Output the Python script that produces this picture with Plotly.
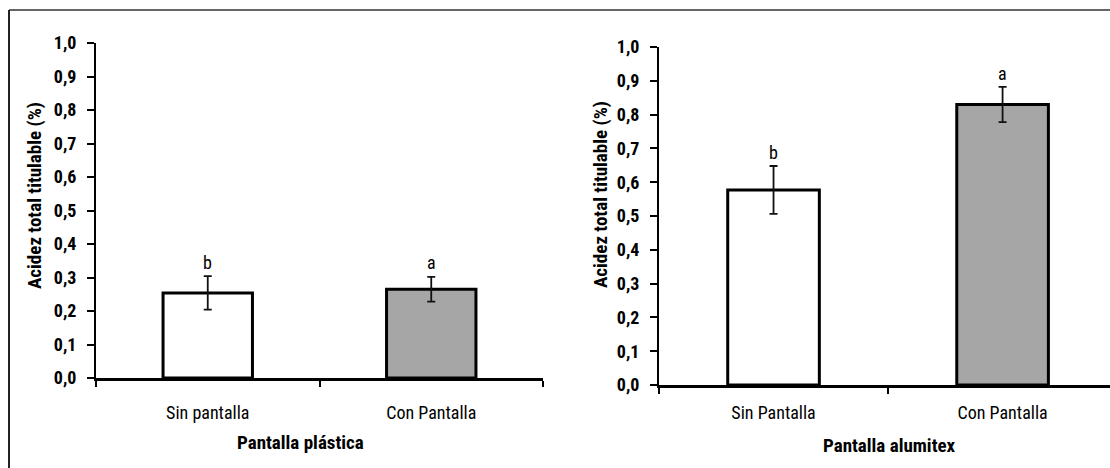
import plotly.graph_objects as go

# ---- data ----
cats_left = ["Sin pantalla", "Con Pantalla"]
vals_left = [0.254, 0.265]
err_left = [0.05, 0.037]
letters_left = ["b", "a"]

cats_right = ["Sin Pantalla", "Con Pantalla"]
vals_right = [0.577, 0.830]
err_right = [0.071, 0.052]
letters_right = ["b", "a"]

bar_colors = ["#ffffff", "#a6a6a6"]
y_ticks = [0, 0.1, 0.2, 0.3, 0.4, 0.5, 0.6, 0.7, 0.8, 0.9, 1.0]

W, H = 1110, 468
FONT = "Roboto Condensed, Liberation Sans Narrow, DejaVu Sans Condensed, sans-serif"

def px(x):
    return x / W

def py(y):
    return 1 - y / H

fig = go.Figure()

fig.add_trace(go.Bar(
    x=cats_left, y=vals_left, width=0.4,
    marker=dict(color=bar_colors, line=dict(color="black", width=3)),
    error_y=dict(type="data", array=err_left, color="#111111", thickness=1.8, width=4),
    xaxis="x", yaxis="y", showlegend=False,
))
fig.add_trace(go.Bar(
    x=cats_right, y=vals_right, width=0.4,
    marker=dict(color=bar_colors, line=dict(color="black", width=3)),
    error_y=dict(type="data", array=err_right, color="#111111", thickness=1.8, width=4),
    xaxis="x2", yaxis="y2", showlegend=False,
))

# letters above error bars
for c, v, e, t in zip(cats_left, vals_left, err_left, letters_left):
    fig.add_annotation(x=c, y=v + e, xref="x", yref="y", text=t, showarrow=False,
                       yshift=14, font=dict(family=FONT, size=18, color="black"))
for c, v, e, t in zip(cats_right, vals_right, err_right, letters_right):
    fig.add_annotation(x=c, y=v + e, xref="x2", yref="y2", text=t, showarrow=False,
                       yshift=13, font=dict(family=FONT, size=18, color="black"))

yaxis_common = dict(
    range=[0, 1.0], tickvals=y_ticks, tickformat=".1f",
    ticks="outside", ticklen=7, tickwidth=2, tickcolor="black",
    showline=True, linecolor="black", linewidth=2,
    showgrid=False, zeroline=False, automargin=False, ticklabelstandoff=7,
    tickfont=dict(family=FONT, size=18, color="black", weight="bold"),
)
xaxis_common = dict(
    type="category", tickson="boundaries",
    ticks="outside", ticklen=6, tickwidth=2, tickcolor="black",
    showline=True, linecolor="black", linewidth=3,
    showgrid=False, zeroline=False, automargin=False,
    tickfont=dict(family=FONT, size=18, color="black"),
)

fig.update_layout(
    template="none",
    width=W, height=H,
    margin=dict(l=0, r=0, t=0, b=0, pad=0, autoexpand=False),
    paper_bgcolor="white", plot_bgcolor="white",
    separators=", ",
    xaxis=dict(domain=[px(96), px(543)], range=[-0.5, 1.5], anchor="y",
               ticklabelstandoff=16, **xaxis_common),
    yaxis=dict(domain=[py(378), py(43)], anchor="x", **yaxis_common),
    xaxis2=dict(domain=[px(659), 1.0], range=[-0.5, 1.469], anchor="y2",
                ticklabelstandoff=9, **xaxis_common),
    yaxis2=dict(domain=[py(385), py(47)], anchor="x2", **yaxis_common),
    bargap=0.6,
)

# axis titles
title_font = dict(family=FONT, size=19, color="black", weight="bold")
fig.add_annotation(x=px(34), y=py(196), xref="paper", yref="paper", text="Acidez total titulable (%)",
                   textangle=-90, showarrow=False, xanchor="center", yanchor="middle", font=title_font)
fig.add_annotation(x=px(600), y=py(195), xref="paper", yref="paper", text="Acidez total titulable (%)",
                   textangle=-90, showarrow=False, xanchor="center", yanchor="middle", font=title_font)
fig.add_annotation(x=px(300), y=py(442), xref="paper", yref="paper", text="Pantalla plástica",
                   showarrow=False, xanchor="center", yanchor="middle", font=title_font)
fig.add_annotation(x=px(889), y=py(445), xref="paper", yref="paper", text="Pantalla alumitex",
                   showarrow=False, xanchor="center", yanchor="middle", font=title_font)

# outer frame (top and left edges)
fig.add_shape(type="line", xref="paper", yref="paper", x0=px(9), x1=1.0, y0=py(10), y1=py(10),
              line=dict(color="#666666", width=2))
fig.add_shape(type="line", xref="paper", yref="paper", x0=px(9), x1=px(9), y0=py(10), y1=0,
              line=dict(color="#222222", width=2))

fig.write_html("out.html")
